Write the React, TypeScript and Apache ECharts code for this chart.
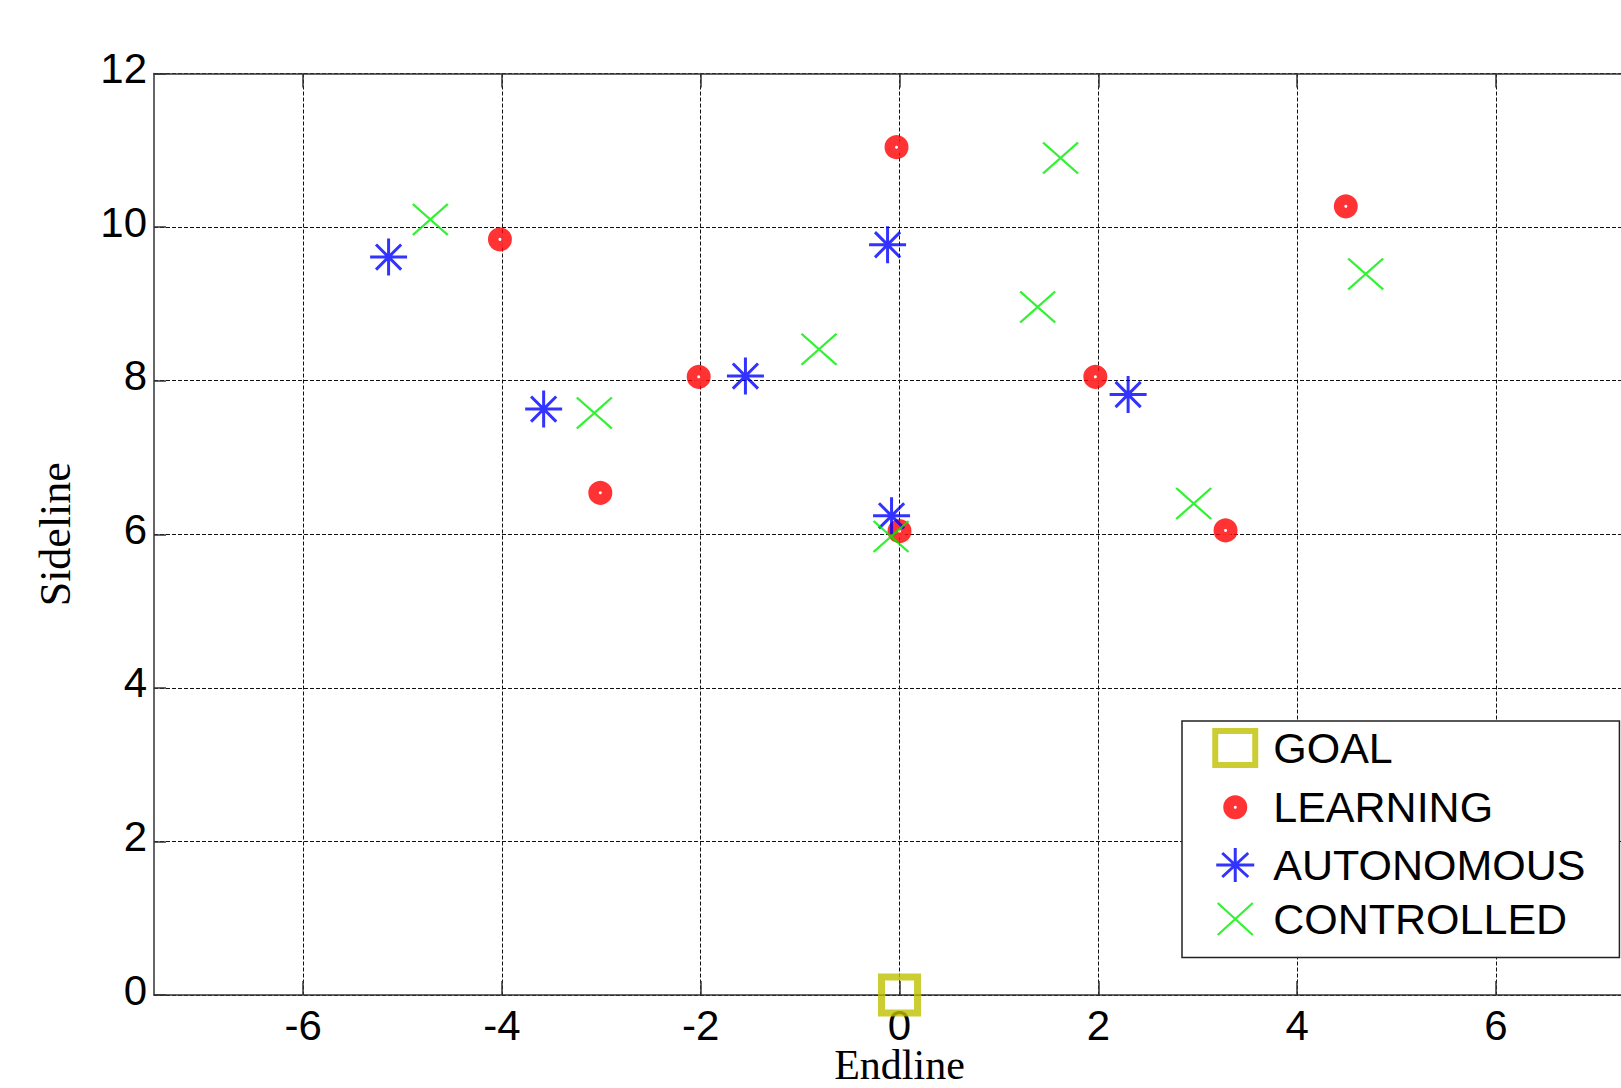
import React, { useEffect, useRef } from "react";
import * as echarts from "echarts";

const xTicks = [-6, -4, -2, 0, 2, 4, 6];
const yTicks = [0, 2, 4, 6, 8, 10, 12];

const goalData = [[0, 0]];
const learningData = [
  [-4.02, 9.84], [-0.03, 11.04], [-2.02, 8.05], [-3.01, 6.54],
  [0.0, 6.04], [1.97, 8.05], [3.28, 6.05], [4.49, 10.27],
];
const autonomousData = [
  [-5.14, 9.61], [-3.58, 7.63], [-1.55, 8.06], [-0.12, 9.77],
  [-0.08, 6.24], [2.3, 7.82],
];
const controlledData = [
  [-4.72, 10.1], [-3.07, 7.58], [-0.81, 8.41], [-0.085, 5.97],
  [1.39, 8.96], [1.62, 10.9], [2.96, 6.4], [4.69, 9.39],
];

const SANS = "'Liberation Sans', Arial, sans-serif";
const SERIF = "'Liberation Serif', 'Times New Roman', serif";

const ASTERISK =
  "path://M0,-1 L0,1 M-1,0 L1,0 M-0.68,-0.68 L0.68,0.68 M-0.68,0.68 L0.68,-0.68";
const CROSS = "path://M-1,-1 L1,1 M-1,1 L1,-1";

// legend icons padded to a 46x40 box via bounding move-to points
const LEG_GOAL = "path://M-23,-20 M23,20 M-20,-17 L20,-17 L20,17 L-20,17 Z";
const LEG_LEARN =
  "path://M-23,-20 M23,20 M-6.75,0 A6.75,6.75 0 1 0 6.75,0 A6.75,6.75 0 1 0 -6.75,0 Z";
const LEG_AUTO =
  "path://M-23,-20 M23,20 M0,-17 L0,17 M-19,0 L19,0 M-13,-12 L13,12 M-13,12 L13,-12";
const LEG_CTRL = "path://M-23,-20 M23,20 M-17.5,-16 L17.5,16 M-17.5,16 L17.5,-16";

const GOAL_C = "#bfbf00";
const RED = "#ff0000";
const BLUE = "#0000ff";
const GREEN = "#00ee00";

export default function App() {
  const ref = useRef<HTMLDivElement>(null);
  useEffect(() => {
    if (!ref.current) return;
    const chart = echarts.init(ref.current, null, { renderer: "svg" });
    const axisLineStyle = { color: "#333", width: 1.5 };
    chart.setOption({
      animation: false,
      backgroundColor: "#fff",
      grid: {
        left: 154,
        top: 73.5,
        width: 1491,
        height: 921.5,
        containLabel: false,
        outerBoundsMode: "none",
      },
      legend: {
        orient: "vertical",
        left: 1182,
        top: 721,
        itemWidth: 46,
        itemHeight: 40,
        itemGap: 11,
        padding: [4, 34, 17, 25],
        borderColor: "#222",
        borderWidth: 1.5,
        backgroundColor: "#fff",
        selectedMode: false,
        textStyle: {
          fontFamily: SANS,
          fontSize: 43,
          color: "#000",
          padding: [0, 0, 0, 10],
        },
        data: [
          { name: "GOAL", icon: LEG_GOAL, itemStyle: { color: "rgba(0,0,0,0)", borderColor: GOAL_C, borderWidth: 6 } },
          { name: "LEARNING", icon: LEG_LEARN, itemStyle: { color: "#fff", borderColor: RED, borderWidth: 10.5 } },
          { name: "AUTONOMOUS", icon: LEG_AUTO, itemStyle: { color: "rgba(0,0,0,0)", borderColor: BLUE, borderWidth: 3 } },
          { name: "CONTROLLED", icon: LEG_CTRL, itemStyle: { color: "rgba(0,0,0,0)", borderColor: GREEN, borderWidth: 2.2 } },
        ],
      },
      xAxis: [
        {
          type: "value",
          min: -7.5,
          max: 7.5,
          position: "bottom",
          name: "Endline",
          nameLocation: "middle",
          nameGap: 56,
          nameMoveOverlap: false,
          nameTextStyle: { fontFamily: SERIF, fontSize: 42, lineHeight: 28, color: "#000" },
          axisLine: { show: true, onZero: false, lineStyle: axisLineStyle },
          axisTick: { show: true, inside: true, length: 14, customValues: xTicks, lineStyle: axisLineStyle },
          axisLabel: {
            customValues: xTicks,
            fontFamily: SANS,
            fontSize: 42,
            lineHeight: 36,
            color: "#000",
            margin: 12,
          },
          splitLine: { show: true, lineStyle: { type: [4, 2], color: "#111", width: 1 } },
        },
        {
          type: "value",
          min: -7.5,
          max: 7.5,
          position: "top",
          axisLine: { show: true, onZero: false, lineStyle: axisLineStyle },
          axisTick: { show: true, inside: true, length: 14, customValues: xTicks, lineStyle: axisLineStyle },
          axisLabel: { show: false, customValues: xTicks },
          splitLine: { show: false },
        },
      ],
      yAxis: [
        {
          type: "value",
          min: 0,
          max: 12,
          interval: 2,
          position: "left",
          name: "Sideline",
          nameLocation: "middle",
          nameGap: 77,
          nameRotate: 90,
          nameTextStyle: { fontFamily: SERIF, fontSize: 44, color: "#000" },
          axisLine: { show: true, onZero: false, lineStyle: axisLineStyle },
          axisTick: { show: true, inside: true, length: 12, lineStyle: axisLineStyle },
          axisLabel: {
            fontFamily: SANS,
            fontSize: 42,
            color: "#000",
            margin: 7,
            verticalAlign: "bottom",
            lineHeight: 10,
            formatter: (v: number) => (yTicks.includes(v) ? String(v) : ""),
          },
          splitLine: { show: true, lineStyle: { type: [4, 2], color: "#111", width: 1 } },
        },
      ],
      series: [
        {
          name: "GOAL",
          type: "scatter",
          data: goalData,
          symbol: "rect",
          symbolSize: 36,
          z: 3,
          itemStyle: { color: "rgba(0,0,0,0)", borderColor: GOAL_C, borderWidth: 7 },
        },
        {
          name: "LEARNING",
          type: "scatter",
          data: learningData,
          symbol: "circle",
          symbolSize: 13.5,
          itemStyle: { color: "#fff", borderColor: RED, borderWidth: 10.5 },
        },
        {
          name: "AUTONOMOUS",
          type: "scatter",
          data: autonomousData,
          symbol: ASTERISK,
          symbolSize: 37,
          itemStyle: { color: "rgba(0,0,0,0)", borderColor: BLUE, borderWidth: 3 },
        },
        {
          name: "CONTROLLED",
          type: "scatter",
          data: controlledData,
          symbol: CROSS,
          symbolSize: [35, 31],
          itemStyle: { color: "rgba(0,0,0,0)", borderColor: GREEN, borderWidth: 2.2 },
        },
      ],
    });
    return () => chart.dispose();
  }, []);
  return (
    <div
      ref={ref}
      style={{ position: "absolute", left: 0, top: 0, width: 1621, height: 1088, background: "#fff" }}
    />
  );
}
